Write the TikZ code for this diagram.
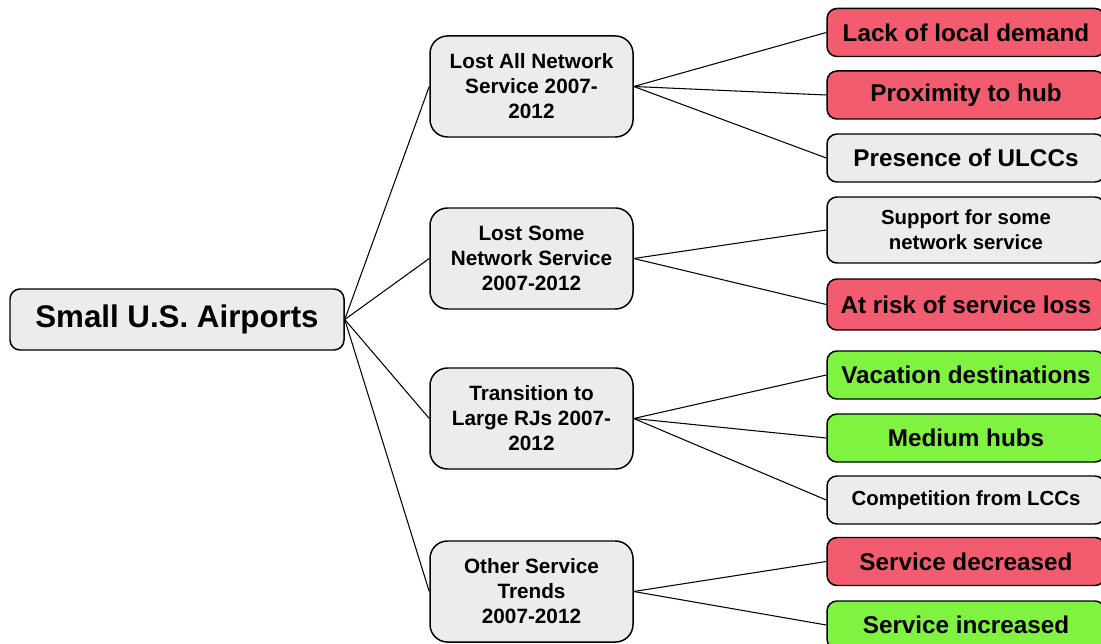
\documentclass[tikz,border=0pt]{standalone}
\usepackage{fontspec}
\setmainfont{Liberation Sans}

\definecolor{boxgray}{RGB}{236,236,236}
\definecolor{boxred}{RGB}{242,92,110}
\definecolor{boxgreen}{RGB}{128,242,64}

\begin{document}
\begin{tikzpicture}[
    line width=0.6pt,
    every node/.style={font=\bfseries, align=center, line width=0.85pt},
    root/.style={draw, fill=boxgray, rounded corners=.2cm, minimum width=6.68cm, minimum height=1.22cm, font=\bfseries\fontsize{17.8}{20}\selectfont},
    group/.style={draw, fill=boxgray, rounded corners=.35cm, minimum width=4.06cm, minimum height=2.02cm, font=\bfseries\fontsize{11.8}{14.2}\selectfont},
    leaf/.style={draw, rounded corners=.2cm, minimum width=5.56cm, minimum height=.96cm, font=\bfseries\fontsize{13.8}{16}\selectfont},
    small/.style={font=\bfseries\fontsize{11.6}{14.2}\selectfont},
    red/.style={leaf, fill=boxred},
    green/.style={leaf, fill=boxgreen},
    gray/.style={leaf, fill=boxgray}
]
    \useasboundingbox (0, 0) rectangle (22.02, -12.88);
    \clip (0, 0) rectangle (22.02, -12.88);

    % ROOT
    \node (airports) at (3.54, -6.39) [root] {Small U.S. Airports};

    % GROUPS
    \node (lost_all) at (10.63, -1.73) [group] {Lost All Network\\Service 2007-\\2012};
    \node (lost_some) at (10.63, -5.17) [group] {Lost Some\\Network Service\\2007-2012};
    \node (large_rj) at (10.63, -8.37) [group] {Transition to\\Large RJs 2007-\\2012};
    \node (other) at (10.63, -11.83) [group] {Other Service\\Trends\\2007-2012};

    % Connect root to groups
    \draw (airports.east) -- (lost_all.west);
    \draw (airports.east) -- (lost_some.west);
    \draw (airports.east) -- (large_rj.west);
    \draw (airports.east) -- (other.west);

    % LEAVES
    \node (demand) at (19.32, -0.65) [red] {Lack of local demand};
    \node (proximity) at (19.32, -1.90) [red] {Proximity to hub};
    \node (ulcc) at (19.32, -3.16) [gray] {Presence of ULCCs};
    \node (support) at (19.32, -4.60) [gray, small, minimum height=1.32cm] {Support for some\\network service};
    \node (risk) at (19.32, -6.09) [red, minimum height=1.02cm] {At risk of service loss};
    \node (vacation) at (19.32, -7.50) [green] {Vacation destinations};
    \node (medium) at (19.32, -8.76) [green] {Medium hubs};
    \node (lcc) at (19.32, -10.00) [gray, small] {Competition from LCCs};
    \node (decreased) at (19.32, -11.23) [red] {Service decreased};
    \node (increased) at (19.32, -12.50) [green] {Service increased};

    % Connect groups to leaves
    \draw (lost_all.east) -- (demand.west);
    \draw (lost_all.east) -- (proximity.west);
    \draw (lost_all.east) -- (ulcc.west);
    \draw (lost_some.east) -- (support.west);
    \draw (lost_some.east) -- (risk.west);
    \draw (large_rj.east) -- (vacation.west);
    \draw (large_rj.east) -- (medium.west);
    \draw (large_rj.east) -- (lcc.west);
    \draw (other.east) -- (decreased.west);
    \draw (other.east) -- (increased.west);
\end{tikzpicture}
\end{document}
